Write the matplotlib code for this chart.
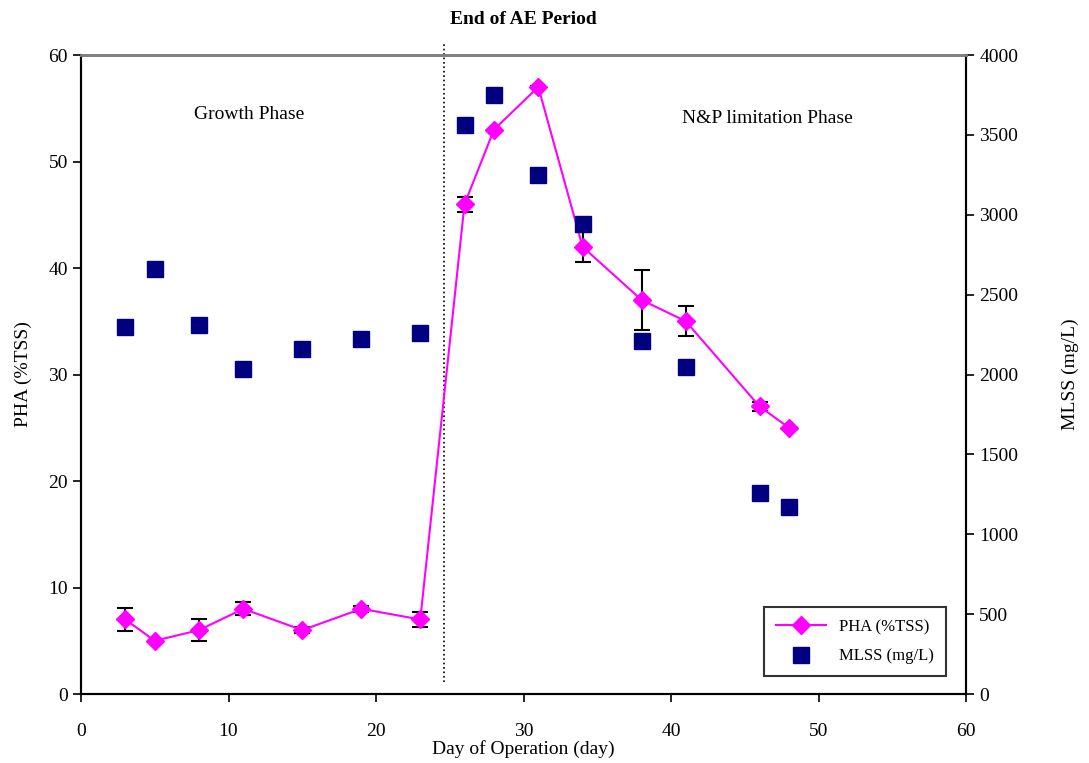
import matplotlib
matplotlib.use('Agg')
import matplotlib.pyplot as plt
import numpy as np

plt.rcParams['font.family'] = ['Liberation Serif', 'DejaVu Serif']

# PHA data (left axis)
days = [3, 5, 8, 11, 15, 19, 23, 26, 28, 31, 34, 38, 41, 46, 48]
pha = [7, 5, 6, 8, 6, 8, 7, 46, 53, 57, 42, 37, 35, 27, 25]
pha_err = [1.1, 0, 1.0, 0.6, 0.3, 0.3, 0.7, 0.7, 0, 0.1, 1.4, 2.8, 1.4, 0.4, 0]

# MLSS data (right axis)
mlss = [2300, 2660, 2310, 2035, 2160, 2220, 2260, 3560, 3750, 3250, 2945, 2210, 2045, 1260, 1170]

end_ae_day = 24.6

fig = plt.figure(figsize=(10.89, 7.63), dpi=100)
ax = fig.add_axes([0.0744, 0.0904, 0.8127, 0.8375])
ax2 = ax.twinx()

ax.errorbar(days, pha, yerr=pha_err, fmt='none', ecolor='black', elinewidth=1.5,
            capsize=6, capthick=1.5, zorder=3)
ax.plot(days, pha, color='#FF00FF', marker='D', markersize=9, linewidth=1.5,
        label='PHA (%TSS)', zorder=4)
ax2.plot(days, mlss, linestyle='none', marker='s', markersize=11, color='#000080',
         label='MLSS (mg/L)')

ax.plot([end_ae_day, end_ae_day], [1.1, 61.2], color='black', linestyle=':',
        linewidth=1.2, clip_on=False)

ax.set_xlim(0, 60)
ax.set_ylim(0, 60)
ax2.set_ylim(0, 4000)
ax.set_xticks(np.arange(0, 61, 10))
ax.set_yticks(np.arange(0, 61, 10))
ax2.set_yticks(np.arange(0, 4001, 500))

for a in (ax, ax2):
    a.tick_params(direction='out', length=6, width=1.2, labelsize=14, colors='black')
    a.spines['top'].set_color('gray')
    a.spines['top'].set_linewidth(2)
    for s in ('left', 'right', 'bottom'):
        a.spines[s].set_linewidth(1.5)
ax.tick_params(axis='x', pad=15)

ax.set_xlabel('Day of Operation (day)', fontsize=14, labelpad=0)
ax.set_ylabel('PHA (%TSS)', fontsize=14, labelpad=12)
ax2.set_ylabel('MLSS (mg/L)', fontsize=14, rotation=90, labelpad=31)
ax.set_title('End of AE Period', fontsize=14, fontweight='bold', pad=22)

ax.text(11.4, 54.4, 'Growth Phase', fontsize=14, ha='center', va='center')
ax.text(46.5, 54.0, 'N&P limitation Phase', fontsize=14, ha='center', va='center')

h1, l1 = ax.get_legend_handles_labels()
h2, l2 = ax2.get_legend_handles_labels()
leg = ax2.legend(h1 + h2, l1 + l2, loc='lower right', bbox_to_anchor=(0.977, 0.028),
                 borderaxespad=0, fontsize=12, frameon=True, fancybox=False,
                 edgecolor='black', borderpad=0.7, labelspacing=0.8, handlelength=3)
leg.get_frame().set_linewidth(1.5)

fig.savefig('out.png', dpi=100)
